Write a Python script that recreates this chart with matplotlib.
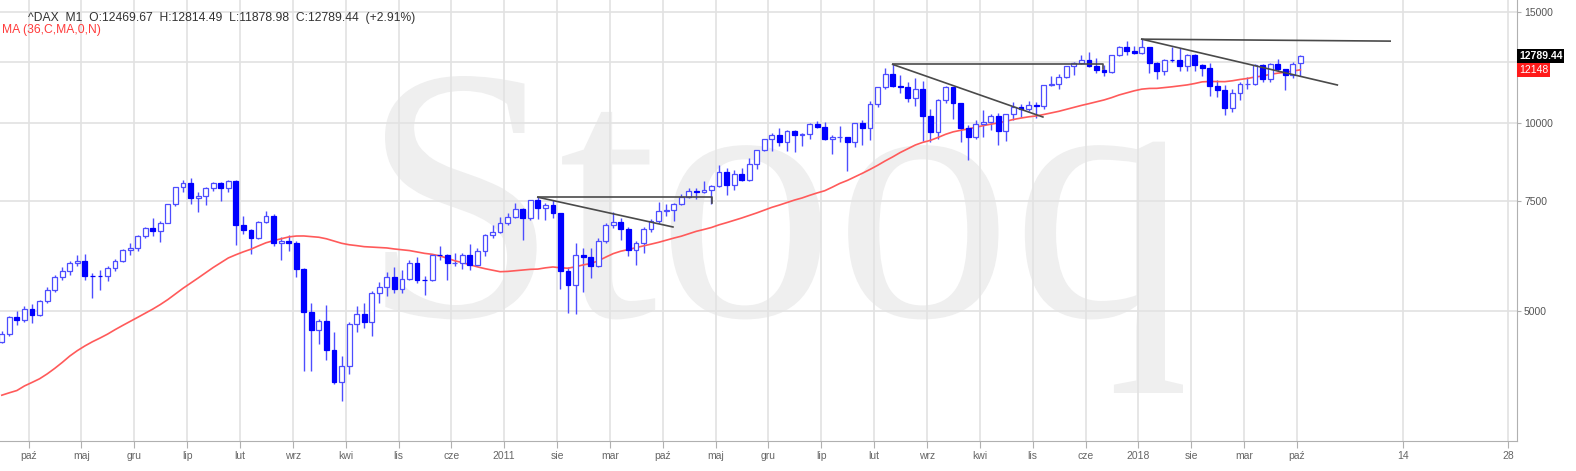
import numpy as np
import pandas as pd
import matplotlib
matplotlib.use('Agg')
import matplotlib.pyplot as plt
import matplotlib.ticker as mtick
from matplotlib.textpath import TextPath
from matplotlib.font_manager import FontProperties
from matplotlib.patches import PathPatch
from matplotlib.transforms import Affine2D, IdentityTransform, blended_transform_factory, ScaledTranslation

plt.rcParams['font.family'] = ['Liberation Sans', 'DejaVu Sans']

# ^DAX monthly bars, 2005-06 .. 2019-10
opens = [4460, 4586, 4886, 4829, 5044, 4929, 5193,
         5408, 5674, 5796, 5970, 6009, 5692, 5683, 5681, 5859, 6004, 6268, 6309,
         6597, 6789, 6715, 6917, 7409, 7883, 8007, 7584, 7638, 7862, 8019, 7871,
         8067, 6851, 6748, 6535, 6949, 7097, 6418, 6479, 6422, 5831, 4988, 4669,
         4810, 4338, 3844, 4085, 4770, 4941, 4809, 5332, 5458, 5675, 5415, 5625,
         5957, 5608, 5598, 6154, 6136, 5965, 5966, 6148, 5925, 6229, 6601, 6688,
         6914, 7077, 7273, 7041, 7514, 7294, 7376, 7159, 5785, 5502, 6141, 6089,
         5898, 6458, 6856, 6947, 6761, 6264, 6416, 6772, 6970, 7216, 7260, 7405,
         7612, 7776, 7741, 7795, 7914, 8349, 7959, 8276, 8103, 8594, 9033, 9406,
         9552, 9306, 9692, 9556, 9603, 9943, 9833, 9407, 9470, 9474, 9327, 9981,
         9806, 10694, 11402, 11966, 11454, 11414, 10945, 11309, 10259, 9660, 10850, 11382,
         10743, 9798, 9495, 9965, 10039, 10263, 9680, 10337, 10593, 10511, 10665, 10640,
         11481, 11535, 11834, 12313, 12438, 12615, 12325, 12118, 12056, 12829, 13230, 13024,
         12918, 13189, 12436, 12097, 12612, 12605, 12306, 12806, 12364, 12247, 11448, 11257,
         10559, 11173, 11516, 11526, 12345, 11727, 12399, 12189, 11939, 12469.67]
highs = [4637, 4903, 4995, 5085, 5138, 5203, 5456,
         5717, 5882, 6020, 6137, 6163, 5740, 5820, 5899, 6050, 6290, 6425, 6614,
         6818, 7040, 6950, 7420, 7890, 8090, 8151, 7750, 7900, 8040, 8050, 8100,
         8100, 7100, 6760, 6973, 7231, 7140, 6570, 6620, 6480, 5848, 5155, 4860,
         5111, 4625, 4230, 4800, 5084, 5150, 5386, 5554, 5761, 5888, 5820, 6026,
         6094, 5687, 6170, 6342, 6170, 6200, 6180, 6387, 6300, 6638, 6873, 7077,
         7180, 7441, 7300, 7530, 7600, 7431, 7523, 7160, 5880, 6430, 6300, 6300,
         6550, 6900, 7194, 7050, 6800, 6480, 6800, 7018, 7478, 7423, 7430, 7680,
         7871, 7850, 8074, 7950, 8558, 8450, 8400, 8470, 8770, 9050, 9424, 9620,
         9794, 9720, 9730, 9640, 9990, 10051, 10033, 9560, 9890, 9480, 10000, 10093,
         10810, 11410, 12220, 12391, 11920, 11635, 11802, 11670, 10500, 10900, 11430, 11420,
         10760, 9900, 10100, 10486, 10330, 10380, 10340, 10800, 10700, 10830, 10800, 11490,
         11893, 11960, 12320, 12486, 12841, 12951, 12676, 12350, 12840, 13274, 13526, 13270,
         13597, 13200, 12500, 12643, 13204, 13170, 12890, 12888, 12430, 12460, 11700, 11500,
         11300, 11600, 11823, 12400, 12400, 12440, 12656, 12200, 12494, 12814.49]
lows = [4440, 4560, 4740, 4797, 4780, 4900, 5150,
        5360, 5600, 5700, 5900, 5597, 5243, 5400, 5580, 5800, 5990, 6150, 6240,
        6550, 6600, 6437, 6910, 7370, 7750, 7420, 7190, 7380, 7780, 7500, 7760,
        6384, 6640, 6167, 6520, 6900, 6351, 6032, 6230, 5658, 4015, 4012, 4424,
        4169, 3820, 3589, 3970, 4623, 4691, 4560, 5140, 5280, 5350, 5350, 5600,
        5540, 5300, 5588, 6040, 5607, 5900, 5830, 5805, 5900, 6130, 6550, 6650,
        6860, 7030, 6500, 7000, 7010, 6985, 7040, 5424, 4965, 4939, 5366, 5650,
        5870, 6420, 6780, 6500, 6125, 5915, 6200, 6690, 6900, 7090, 6950, 7380,
        7580, 7550, 7720, 7420, 7880, 7655, 7800, 8060, 8070, 8440, 9000, 9010,
        9170, 9017, 8990, 9166, 9400, 9800, 9380, 8903, 9300, 8355, 9150, 9219,
        9382, 10580, 11300, 11400, 11150, 10800, 10650, 9338, 9325, 9400, 10740, 10123,
        9314, 8700, 9400, 9484, 9737, 9214, 9330, 10100, 10200, 10420, 10175, 10500,
        11440, 11300, 11800, 11935, 12400, 12280, 12000, 11868, 12000, 12800, 12840, 12860,
        12870, 12003, 11727, 11900, 12500, 12100, 12100, 12100, 11866, 11050, 11000, 10279,
        10400, 10860, 11300, 11500, 11620, 11620, 12100, 11266, 11800, 11878.98]
closes = [4586, 4886, 4829, 5044, 4929, 5193, 5408,
          5674, 5796, 5970, 6009, 5692, 5683, 5681, 5859, 6004, 6268, 6309, 6597,
          6789, 6715, 6917, 7409, 7883, 8007, 7584, 7638, 7862, 8019, 7871, 8067,
          6851, 6748, 6535, 6949, 7097, 6418, 6479, 6422, 5831, 4988, 4669, 4810,
          4338, 3844, 4085, 4770, 4941, 4809, 5332, 5458, 5675, 5415, 5625, 5957,
          5608, 5598, 6154, 6136, 5965, 5966, 6148, 5925, 6229, 6601, 6688, 6914,
          7077, 7273, 7041, 7514, 7294, 7376, 7159, 5785, 5502, 6141, 6089, 5898,
          6458, 6856, 6947, 6761, 6264, 6416, 6772, 6970, 7216, 7260, 7405, 7612,
          7776, 7741, 7795, 7914, 8349, 7959, 8276, 8103, 8594, 9033, 9406, 9552,
          9306, 9692, 9556, 9603, 9943, 9833, 9407, 9470, 9474, 9327, 9981, 9806,
          10694, 11402, 11966, 11454, 11414, 10945, 11309, 10259, 9660, 10850, 11382, 10743,
          9798, 9495, 9965, 10039, 10263, 9680, 10337, 10593, 10511, 10665, 10640, 11481,
          11535, 11834, 12313, 12438, 12615, 12325, 12118, 12056, 12829, 13230, 13024, 12918,
          13189, 12436, 12097, 12612, 12605, 12306, 12806, 12364, 12247, 11448, 11257, 10559,
          11173, 11516, 11526, 12345, 11727, 12399, 12189, 11939, 12428, 12789.44]
# closes 2002-07 .. 2005-05, only needed to warm up the 36-month MA
prev_closes = [3700, 3713, 2769, 3153, 3320, 2893,
               2748, 2547, 2424, 2942, 2983, 3221, 3488, 3485, 3257, 3656, 3746, 3965,
               4059, 4018, 3857, 3985, 3921, 4053, 3896, 3785, 3893, 3960, 4126, 4256,
               4255, 4350, 4349, 4185, 4461]

tick_labels = ['paź', 'maj', 'gru', 'lip', 'lut', 'wrz', 'kwi', 'lis', 'cze', '2011',
               'sie', 'mar', 'paź', 'maj', 'gru', 'lip', 'lut', 'wrz', 'kwi', 'lis',
               'cze', '2018', 'sie', 'mar', 'paź', '14', '28']
y_ticks = [5000, 7500, 10000, 12500, 15000]
y_tick_labels = ['5000', '7500', '10000', '', '15000']

# user drawn lines: (bar index, price) pairs
drawn_lines = [
    [(71.0, 7600), (94.1, 7600), (94.1, 7440)],
    [(71.0, 7600), (88.9, 6811)],
    [(118.0, 12391), (145.9, 12391), (145.9, 12200)],
    [(118.0, 12391), (137.9, 10210)],
    [(151.0, 13597), (183.9, 13500)],
    [(151.0, 13597), (176.9, 11487)],
]

o = np.array(opens, float)
h = np.array(highs, float)
l = np.array(lows, float)
c = np.array(closes, float)
x = np.arange(len(c))
ma = pd.Series(prev_closes + closes, dtype=float).rolling(36).mean().to_numpy()[len(prev_closes):]

fig = plt.figure(figsize=(15.76, 4.71), dpi=100)
ax = fig.add_axes([0, 30 / 471, 1517 / 1576, 441 / 471])
ax.set_yscale('log')
ax.set_ylim(3098, 15706)
ax.set_xlim(-0.24, 200.7)

# watermark
tp = TextPath((0, 0), 'Stooq', size=100, prop=FontProperties(family='Liberation Serif'))
ext = tp.get_extents()
L, R, T, B = 385, 1183, 471 - 76, 471 - 393
tr = Affine2D().translate(-ext.x0, -ext.y0).scale((R - L) / ext.width, (T - B) / ext.height).translate(L, B)
ax.add_patch(PathPatch(tr.transform_path(tp), fc='#efefef', ec='none',
                       transform=IdentityTransform(), zorder=0.1))

ax.set_axisbelow(True)
ax.grid(True, color='#e2e2e2', lw=1.2)

# candles
up = c >= o
ax.vlines(x, l, h, color='#4d4dff', lw=1.0, zorder=2)
ax.bar(x[up], c[up] - o[up], bottom=o[up], width=0.64, color='white',
       edgecolor='#4d4dff', linewidth=0.9, zorder=3)
ax.bar(x[~up], o[~up] - c[~up], bottom=c[~up], width=0.64, color='#0000ff',
       edgecolor='#0000ff', linewidth=0.9, zorder=3)

ax.plot(x, ma, color='#ff5a5a', lw=1.2, zorder=2.5)

for pts in drawn_lines:
    px, py = zip(*pts)
    ax.plot(px, py, color='#4a4a4a', lw=1.2, zorder=4)

# axes styling
tick_pos = [4, 11, 18, 25, 32, 39, 46, 53, 60, 67, 74, 81, 88, 95, 102, 109,
            116, 123, 130, 137, 144, 151, 158, 165, 172, 186, 200]
ax.set_xticks([p - 0.45 for p in tick_pos])
ax.set_xticklabels(tick_labels)
ax.yaxis.tick_right()
ax.yaxis.set_major_locator(mtick.FixedLocator(y_ticks))
ax.yaxis.set_major_formatter(mtick.FixedFormatter(y_tick_labels))
ax.yaxis.set_minor_locator(mtick.NullLocator())
ax.tick_params(axis='x', length=5, color='#b0b0b0', labelsize=7.5, labelcolor='#666666', pad=2)
ax.tick_params(axis='y', length=3, color='#b0b0b0', labelsize=7.5, labelcolor='#555555', pad=2)
for s in ['top', 'left']:
    ax.spines[s].set_visible(False)
for s in ['right', 'bottom']:
    ax.spines[s].set_color('#b0b0b0')

# value boxes on the price axis
bt = blended_transform_factory(ax.transAxes, ax.transData) + ScaledTranslation(1.5 / 72, 0, fig.dpi_scale_trans)
ax.text(1.0, c[-1], f'{c[-1]:.2f}', transform=bt, ha='left', va='center', color='white',
        fontsize=7.5, fontweight='bold', clip_on=False, zorder=10,
        bbox=dict(boxstyle='square,pad=0.18', fc='black', ec='none'))
ax.text(1.0, ma[-1], f'{ma[-1]:.0f}', transform=bt, ha='left', va='center', color='white',
        fontsize=7.5, clip_on=False, zorder=10,
        bbox=dict(boxstyle='square,pad=0.18', fc='#ff1a1a', ec='none'))

chg = (c[-1] / c[-2] - 1) * 100
title = (f'^DAX  M1  O:{o[-1]:.2f}  H:{h[-1]:.2f}  L:{l[-1]:.2f}  '
         f'C:{c[-1]:.2f}  ({chg:+.2f}%)')
fig.text(28 / 1576, 1 - 18 / 471, title, fontsize=8.7, color='#333333', va='center')
fig.text(2 / 1576, 1 - 30 / 471, 'MA (36,C,MA,0,N)', fontsize=8.7, color='#ff3b3b', va='center')

fig.savefig('out.png', dpi=100)
